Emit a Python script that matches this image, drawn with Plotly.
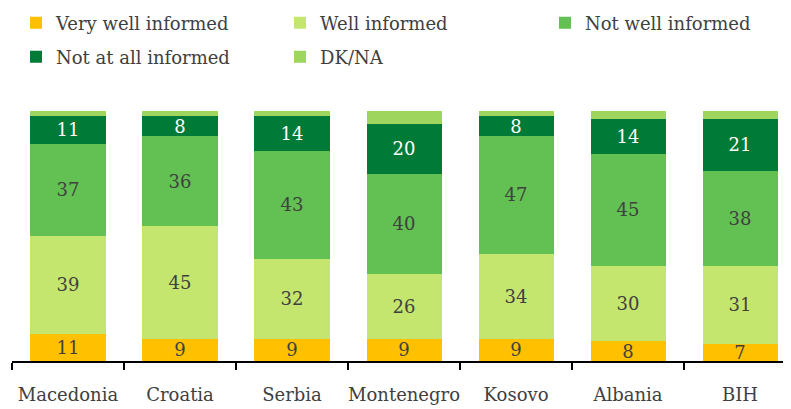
import plotly.graph_objects as go

countries = ["Macedonia", "Croatia", "Serbia", "Montenegro", "Kosovo", "Albania", "BIH"]
very_well = [11, 9, 9, 9, 9, 8, 7]
well = [39, 45, 32, 26, 34, 30, 31]
not_well = [37, 36, 43, 40, 47, 45, 38]
not_at_all = [11, 8, 14, 20, 8, 14, 21]
dk_na = [2, 2, 2, 5, 2, 3, 3]

series = [
    ("Very well informed", very_well, "#FFC000", "#404040", True, "legend"),
    ("Well informed", well, "#C5E66E", "#404040", True, "legend3"),
    ("Not well informed", not_well, "#62C152", "#404040", True, "legend5"),
    ("Not at all informed", not_at_all, "#007A37", "#FFFFFF", True, "legend2"),
    ("DK/NA", dk_na, "#9DD55D", "#404040", False, "legend4"),
]

FONT = "DejaVu Serif"
fig = go.Figure()
for name, vals, color, tcolor, show_text, leg in series:
    fig.add_trace(go.Bar(
        name=name, x=countries, y=vals,
        marker=dict(color=color, line=dict(width=0)),
        text=[str(v) for v in vals] if show_text else None,
        textposition="inside" if show_text else "none",
        insidetextanchor="middle",
        textangle=0,
        constraintext="none",
        textfont=dict(family=FONT, size=18, color=tcolor),
        legend=leg,
    ))

# page body adds an 8px offset, so the figure is sized to the visible area
W, H = 783, 401
def leg(xpx, ypx):
    return dict(xref="container", yref="container", x=xpx / W, y=1 - ypx / H,
                xanchor="left", yanchor="middle", orientation="v",
                font=dict(family=FONT, size=18, color="#404040"),
                bgcolor="rgba(0,0,0,0)", borderwidth=0)

fig.update_layout(
    width=W, height=H,
    barmode="stack", bargap=0.33,
    plot_bgcolor="white", paper_bgcolor="white",
    margin=dict(l=4, r=0, t=103, b=48, autoexpand=False),
    font=dict(family=FONT, size=18, color="#404040"),
    showlegend=True,
    legend=leg(8, 15),
    legend2=leg(8, 49),
    legend3=leg(272, 15),
    legend4=leg(272, 49),
    legend5=leg(537, 15),
    xaxis=dict(
        type="category", range=[-0.5, 6.455],
        showline=True, linecolor="black", linewidth=1.5,
        ticks="outside", tickson="boundaries", ticklen=7, tickcolor="black", tickwidth=1.5,
        tickfont=dict(family=FONT, size=18, color="#404040"),
        tickangle=0,
        ticklabelstandoff=17,
        showgrid=False, zeroline=False, automargin=False,
    ),
    yaxis=dict(range=[0, 100], visible=False, showgrid=False, zeroline=False),
)

fig.write_html("out.html")
